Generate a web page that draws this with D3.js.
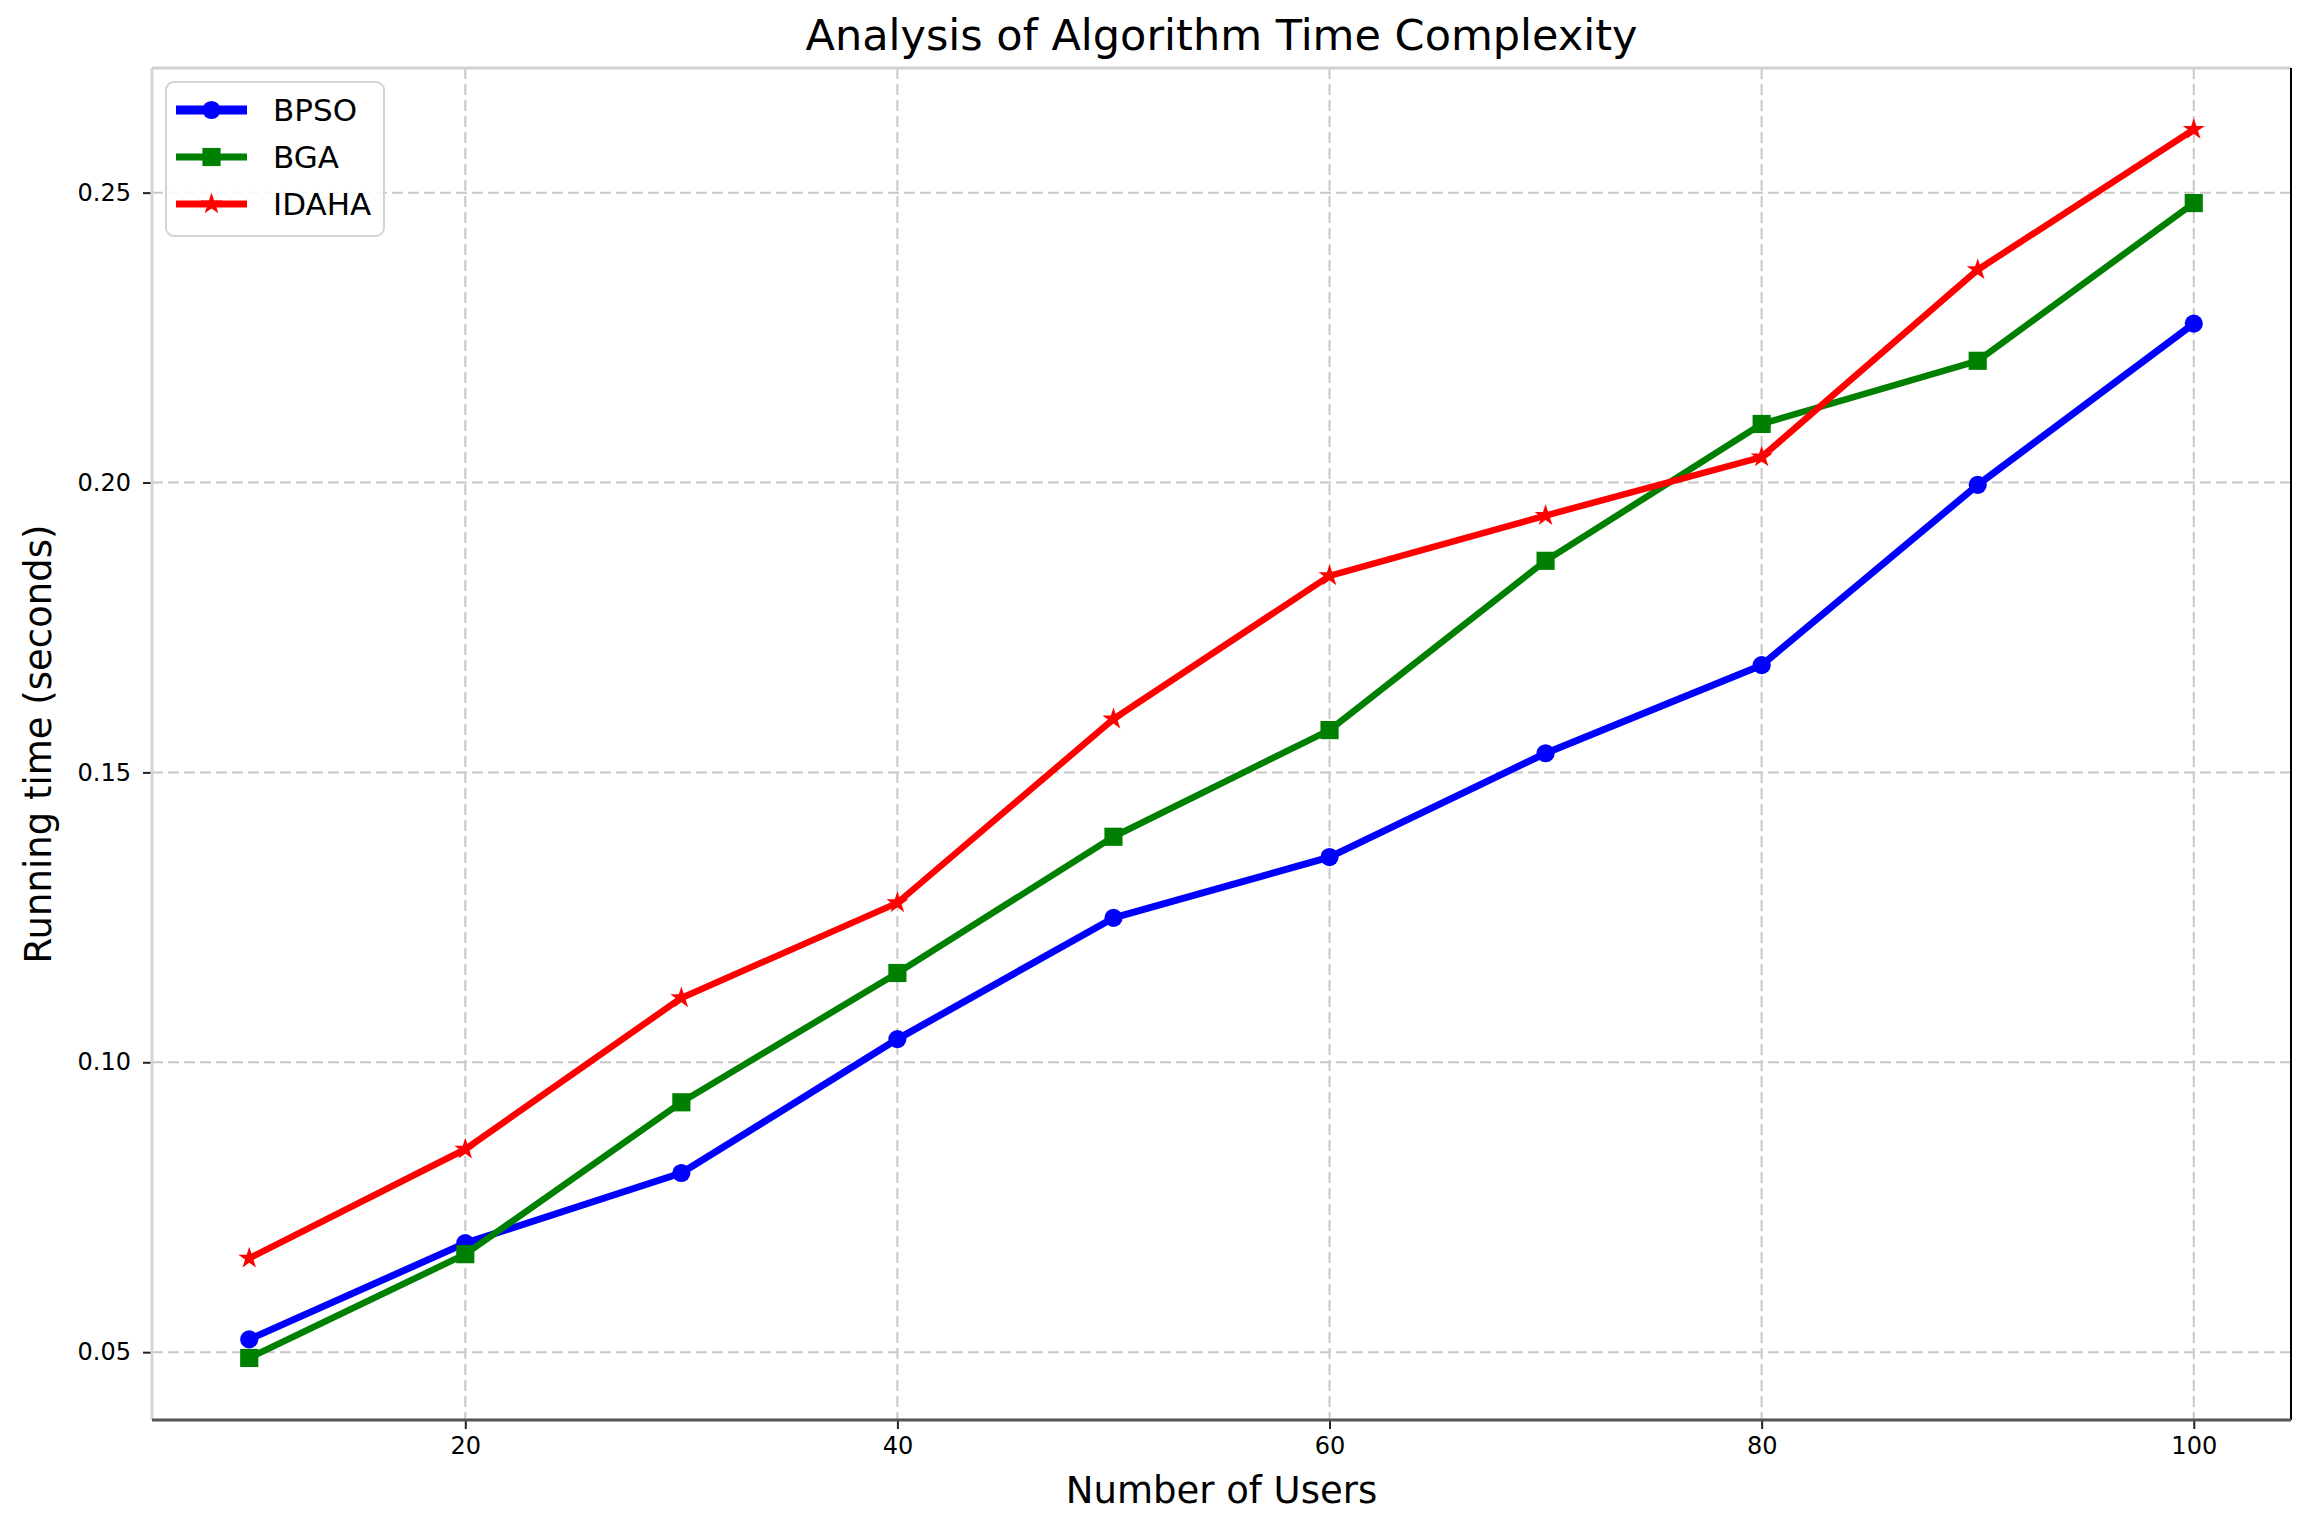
<!DOCTYPE html>
<html>
<head>
<meta charset="utf-8">
<script src="https://cdn.jsdelivr.net/npm/d3@7"></script>
<style>
  body { margin: 0; background: #fff; }
  text { font-family: "DejaVu Sans", sans-serif; fill: #000; }
</style>
</head>
<body>
<div id="chart"></div>
<script>
// Data
var users = [10, 20, 30, 40, 50, 60, 70, 80, 90, 100];
var bpso = [0.0522, 0.0688, 0.0809, 0.1040, 0.1249, 0.1354, 0.1533, 0.1685, 0.1996, 0.2274];
var bga = [0.0490, 0.0669, 0.0931, 0.1154, 0.1389, 0.1573, 0.1865, 0.2101, 0.2210, 0.2482];
var idaha = [0.0662, 0.0850, 0.1111, 0.1275, 0.1592, 0.1839, 0.1943, 0.2044, 0.2367, 0.2609];
var seriesNames = ["BPSO", "BGA", "IDAHA"];
var xTicks = [20, 40, 60, 80, 100];
var yTicks = [0.05, 0.10, 0.15, 0.20, 0.25];

var svgWidth = 2315;
var svgHeight = 1528;

var chartMargin = { top: 68, right: 24, bottom: 108, left: 152 };
var chartWidth = svgWidth - chartMargin.left - chartMargin.right;
var chartHeight = svgHeight - chartMargin.top - chartMargin.bottom;

var svg = d3.select("#chart")
    .append("svg")
    .attr("width", svgWidth)
    .attr("height", svgHeight);

var chartGroup = svg.append("g")
    .attr("transform", `translate(${chartMargin.left}, ${chartMargin.top})`);

var xScale = d3.scaleLinear().domain([5.5, 104.5]).range([0, chartWidth]);
var yScale = d3.scaleLinear().domain([0.0383, 0.2715]).range([chartHeight, 0]);

// grid
chartGroup.append("g")
    .selectAll("line.vgrid")
    .data(xTicks)
    .enter()
    .append("line")
    .attr("x1", d => xScale(d)).attr("x2", d => xScale(d))
    .attr("y1", 0).attr("y2", chartHeight)
    .attr("stroke", "#c8c8c8").attr("stroke-width", 2)
    .attr("stroke-dasharray", "11,5");

chartGroup.append("g")
    .selectAll("line.hgrid")
    .data(yTicks)
    .enter()
    .append("line")
    .attr("x1", 0).attr("x2", chartWidth)
    .attr("y1", d => yScale(d)).attr("y2", d => yScale(d))
    .attr("stroke", "#c8c8c8").attr("stroke-width", 2)
    .attr("stroke-dasharray", "11,5");

// axes
var bottomAxis = d3.axisBottom(xScale).tickValues(xTicks).tickSize(9).tickPadding(8);
var leftAxis = d3.axisLeft(yScale).tickValues(yTicks).tickSize(9).tickPadding(12)
    .tickFormat(d3.format(".2f"));

var xAxisG = chartGroup.append("g")
    .attr("transform", `translate(0, ${chartHeight})`)
    .call(bottomAxis);
var yAxisG = chartGroup.append("g").call(leftAxis);

[xAxisG, yAxisG].forEach(g => {
    g.select(".domain").remove();
    g.selectAll(".tick line").attr("stroke", "#222").attr("stroke-width", 2);
    g.selectAll(".tick text")
        .style("font-family", "DejaVu Sans")
        .style("font-size", "24px")
        .attr("fill", "#000");
});

// frame
chartGroup.append("line").attr("x1", 0).attr("x2", chartWidth).attr("y1", 0).attr("y2", 0)
    .attr("stroke", "#cfcfcf").attr("stroke-width", 3);
chartGroup.append("line").attr("x1", 0).attr("x2", 0).attr("y1", 0).attr("y2", chartHeight)
    .attr("stroke", "#d6d6d6").attr("stroke-width", 3);
chartGroup.append("line").attr("x1", chartWidth).attr("x2", chartWidth).attr("y1", 0).attr("y2", chartHeight)
    .attr("stroke", "#000").attr("stroke-width", 2);
chartGroup.append("line").attr("x1", 0).attr("x2", chartWidth).attr("y1", chartHeight).attr("y2", chartHeight)
    .attr("stroke", "#555").attr("stroke-width", 3);

// series
var series = [
    { name: seriesNames[0], values: bpso, color: "#0000ff", width: 7, legendWidth: 9, symbol: d3.symbolCircle, size: 260 },
    { name: seriesNames[1], values: bga, color: "#008000", width: 6.5, legendWidth: 7, symbol: d3.symbolSquare, size: 330 },
    { name: seriesNames[2], values: idaha, color: "#ff0000", width: 6.5, legendWidth: 7, symbol: d3.symbolStar, size: 150 }
];

var line = d3.line()
    .x((d, i) => xScale(users[i]))
    .y(d => yScale(d));

series.forEach(s => {
    chartGroup.append("path")
        .datum(s.values)
        .attr("d", line)
        .attr("fill", "none")
        .attr("stroke", s.color)
        .attr("stroke-width", s.width)
        .attr("stroke-linejoin", "round");

    chartGroup.selectAll(null)
        .data(s.values)
        .enter()
        .append("path")
        .attr("d", d3.symbol().type(s.symbol).size(s.size))
        .attr("transform", (d, i) => `translate(${xScale(users[i])}, ${yScale(d)})`)
        .attr("fill", s.color);
});

// legend
var legend = chartGroup.append("g").attr("transform", "translate(14, 14)");
legend.append("rect")
    .attr("width", 218).attr("height", 154)
    .attr("rx", 8).attr("ry", 8)
    .attr("fill", "#fff").attr("fill-opacity", 0.85)
    .attr("stroke", "#d4d4d4").attr("stroke-width", 2);

var legendItems = legend.selectAll("g.item")
    .data(series)
    .enter()
    .append("g")
    .attr("transform", (d, i) => `translate(10, ${28 + i * 47})`);

legendItems.append("line")
    .attr("x1", 0).attr("x2", 71).attr("y1", 0).attr("y2", 0)
    .attr("stroke", d => d.color)
    .attr("stroke-width", d => d.legendWidth);
legendItems.append("path")
    .attr("d", d => d3.symbol().type(d.symbol).size(d.size)())
    .attr("transform", "translate(35.5, 0)")
    .attr("fill", d => d.color);
legendItems.append("text")
    .attr("x", 97).attr("y", 0)
    .attr("dy", "0.36em")
    .style("font-size", "31px")
    .text(d => d.name);

// title and axis labels
svg.append("text")
    .attr("x", chartMargin.left + chartWidth / 2)
    .attr("y", 50)
    .style("text-anchor", "middle")
    .style("font-size", "43px")
    .text("Analysis of Algorithm Time Complexity");

svg.append("text")
    .attr("x", chartMargin.left + chartWidth / 2)
    .attr("y", 1503)
    .style("text-anchor", "middle")
    .style("font-size", "37px")
    .text("Number of Users");

svg.append("text")
    .attr("transform", "rotate(-90)")
    .attr("x", -(chartMargin.top + chartHeight / 2))
    .attr("y", 51)
    .style("text-anchor", "middle")
    .style("font-size", "37px")
    .text("Running time (seconds)");
</script>
</body>
</html>
